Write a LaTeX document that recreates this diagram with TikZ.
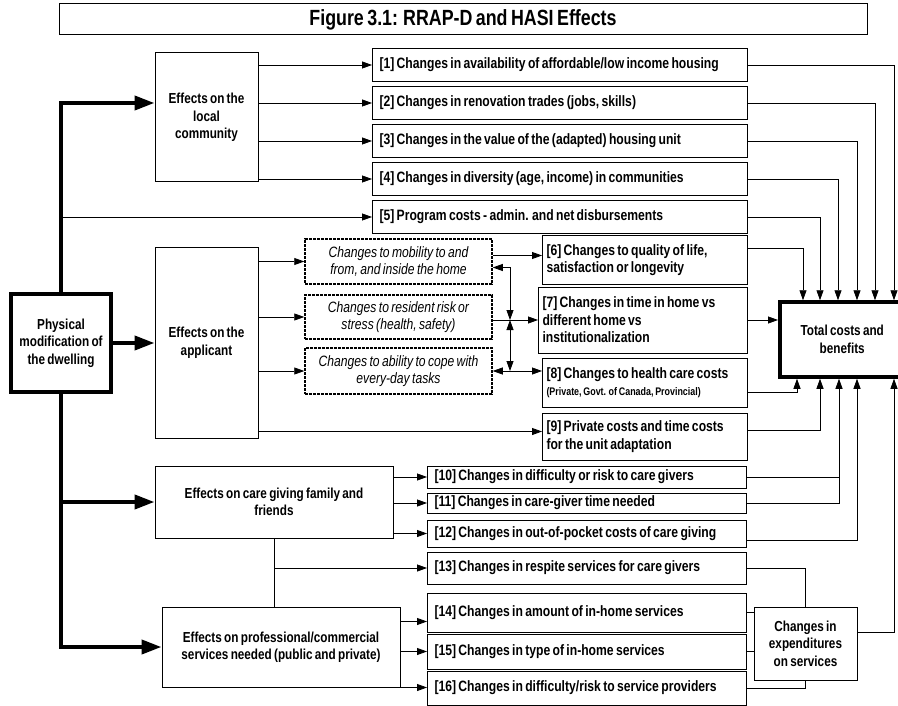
\documentclass[tikz,border=0pt]{standalone}
\usepackage{fontspec}
\setmainfont{Liberation Sans}[FakeStretch=0.81,WordSpace=0.7]
\usetikzlibrary{arrows.meta,positioning}

\begin{document}
\begin{tikzpicture}[x=1pt,y=-1pt,>={Triangle[length=10pt,width=7pt]},
line width=0.8pt,
heavy arrow/.style={line width=4pt,-{Triangle[length=20pt,width=14pt]}},
title node/.style={draw,line width=1pt,font=\fontsize{22}{25}\selectfont\bfseries},
phys node/.style={draw,line width=3.5pt,align=center,font=\fontsize{14.5}{17.5}\selectfont\bfseries},
effect node/.style={draw,line width=1pt,align=center,font=\fontsize{14.5}{17.5}\selectfont\bfseries},
dash node/.style={draw,line width=1.5pt,dash pattern=on 3pt off 1pt,align=center,
  minimum width=187pt,font=\fontsize{15}{17.5}\selectfont\itshape},
change node/.style={draw,line width=1pt,anchor=west,align=flush left,inner xsep=7pt,inner ysep=1pt,
  font=\fontsize{15}{17.5}\selectfont\bfseries},
total node/.style={draw,line width=3.5pt,anchor=west,align=center,font=\fontsize{14.5}{17.5}\selectfont\bfseries}]

\useasboundingbox (0,0) rectangle (898,706);

%Title
\node[title node,minimum width=808pt,minimum height=31pt] (title) at (463,19.5) {Figure 3.1: RRAP-D and HASI Effects};

%Sources of effects
\node[phys node,minimum width=100pt,minimum height=98pt] (phys) at (61,343) {Physical\\modification of\\the dwelling};
\node[effect node,minimum width=103pt,minimum height=129pt] (comm) at (206.5,117.5) {Effects on the\\local\\community};
\node[effect node,minimum width=103pt,minimum height=190pt] (appl) at (206.5,343) {Effects on the\\applicant};
\node[effect node,minimum width=238pt,minimum height=72pt] (care) at (274,502) {Effects on care giving family and\\friends};
\node[effect node,minimum width=238pt,minimum height=80pt] (prof) at (281,647) {Effects on professional/commercial\\services needed (public and private)};

%Community and program effects
\node[change node,text width=361pt,minimum height=33pt] (c1) at (372,65) {[1] Changes in availability of affordable/low income housing};
\node[change node,text width=361pt,minimum height=33pt] (c2) [below=4pt of c1] {[2] Changes in renovation trades (jobs, skills)};
\node[change node,text width=361pt,minimum height=33pt] (c3) [below=4pt of c2] {[3] Changes in the value of the (adapted) housing unit};
\node[change node,text width=361pt,minimum height=33pt] (c4) [below=4pt of c3] {[4] Changes in diversity (age, income) in communities};
\node[change node,text width=361pt,minimum height=33pt] (c5) [below=4pt of c4] {[5] Program costs - admin. and net disbursements};

%Applicant effects
\node[dash node,minimum height=45pt] (d1) at (398.5,261.5) {Changes to mobility to and\\from, and inside the home};
\node[dash node,minimum height=44pt] (d2) at (398.5,317) {Changes to resident risk or\\stress (health, safety)};
\node[dash node,minimum height=46pt] (d3) at (398.5,371) {Changes to ability to cope with\\every-day tasks};

\node[change node,inner xsep=4pt,text width=197pt,minimum height=48pt] (c6) at (542,260) {[6] Changes to quality of life,\\satisfaction or longevity};
\node[change node,inner xsep=4pt,text width=201pt,minimum height=66pt] (c7) at (538,320) {[7] Changes in time in home vs\\different home vs\\institutionalization};
\node[change node,inner xsep=4pt,text width=197pt,minimum height=49pt] (c8) at (542,382.5) {[8] Changes to health care costs\\{\fontsize{11}{13}\selectfont (Private, Govt. of Canada, Provincial)}};
\node[change node,inner xsep=4pt,text width=197pt,minimum height=47pt] (c9) at (542,436.5) {[9] Private costs and time costs\\for the unit adaptation};

%Care giver and service effects
\node[change node,text width=305pt,minimum height=22pt] (c10) at (427,477) {[10] Changes in difficulty or risk to care givers};
\node[change node,text width=305pt,minimum height=20pt] (c11) at (427,503) {[11] Changes in care-giver time needed};
\node[change node,text width=305pt,minimum height=27pt] (c12) at (427,533.5) {[12] Changes in out-of-pocket costs of care giving};
\node[change node,text width=305pt,minimum height=32pt] (c13) at (427,568) {[13] Changes in respite services for care givers};
\node[change node,text width=305pt,minimum height=39pt] (c14) at (427,612.5) {[14] Changes in amount of in-home services};
\node[change node,text width=305pt,minimum height=35pt] (c15) at (427,651.5) {[15] Changes in type of in-home services};
\node[change node,text width=305pt,minimum height=34pt] (c16) at (427,688) {[16] Changes in difficulty/risk to service providers};

%Totals
\node[total node,minimum width=125pt,minimum height=75pt] (total) at (778,339.5) {Total costs and\\benefits};
\node[effect node,minimum width=103pt,minimum height=73pt] (expend) at (805.5,643.5) {Changes in\\expenditures\\on services};

%Entry points
\foreach \n/\dx in {t1/116,t2/97,t3/79,t4/60,t5/42,t6/25}
  \coordinate (\n) at ([xshift=\dx pt]total.north west);
\foreach \n/\dx in {b8/19,b9/42,b10/61,b12/79,bx/116}
  \coordinate (\n) at ([xshift=\dx pt]total.south west);
\coordinate (topbend) at (61,103);
\coordinate (jn) at (510,320);
\coordinate (out6) at ([yshift=12pt]c6.east);
\coordinate (out8) at ([yshift=-10pt]c8.east);
\coordinate (out9) at ([yshift=6pt]c9.east);
\coordinate (out12) at ([yshift=-7pt]c12.east);
\coordinate (outx) at ([yshift=11pt]expend.east);
\coordinate (in6) at ([yshift=6pt]d1.east);
\coordinate (back1) at ([yshift=-6pt]d1.east);
\coordinate (in9) at ([yshift=7pt]appl.south east);
\coordinate (in14) at ([yshift=-9pt]c14.west);

%Paths
\draw[heavy arrow] (phys.north) -- (topbend) -- (topbend -| comm.west);
\draw[heavy arrow] (phys.east) -- (appl.west);
\draw[heavy arrow] (phys.south) |- (care.west);
\draw[heavy arrow] (phys.south) |- (prof.west);

\foreach \k in {1,...,4}
  \draw[->] (comm.east |- c\k.west) -- (c\k.west);
\draw[->] (phys.north |- c5.west) -- (c5.west);

\foreach \k in {1,2,3}
  \draw[->] (appl.east |- d\k.west) -- (d\k.west);
\draw[->] (in9) -- (in9 -| c9.west);

\draw[->] (in6) -- (in6 -| c6.west);
\draw[->] (d2.east |- c7.west) -- (c7.west);
\draw[<->] (back1) -| (jn);
\draw[<->] (jn) -- (jn |- d3.east);
\draw[<->] (d3.east) -- (d3.east -| c8.west);

\foreach \k in {1,...,5}
  \draw[->] (c\k.east) -| (t\k);
\draw[->] (out6) -| (t6);
\draw[->] (c7.east) -- (c7.east -| total.west);
\draw[->] (out8) -| (b8);
\draw[->] (out9) -| (b9);
\draw[->] (c10.east) -| (b10);
\draw (c11.east) -| (c10.east -| b10);
\draw[->] (out12) -| (b12);
\draw[->] (outx) -| (bx);

\foreach \k in {10,11,12}
  \draw[->] (care.east |- c\k.west) -- (c\k.west);
\draw (care.south) -- (care.south |- prof.north);
\draw[->] (care.south |- c13.west) -- (c13.west);
\draw[->] (prof.east |- in14) -- (in14);
\draw[->] (prof.east |- c15.west) -- (c15.west);
\draw[->] (prof.south east) -- (prof.south east -| c16.west);

\draw (c13.east) -| (expend.north);
\draw (c14.east) -- (c14.east -| expend.west);
\draw (c15.east) -- (c15.east -| expend.west);
\draw (c16.east) -| (expend.south);
\end{tikzpicture}
\end{document}
